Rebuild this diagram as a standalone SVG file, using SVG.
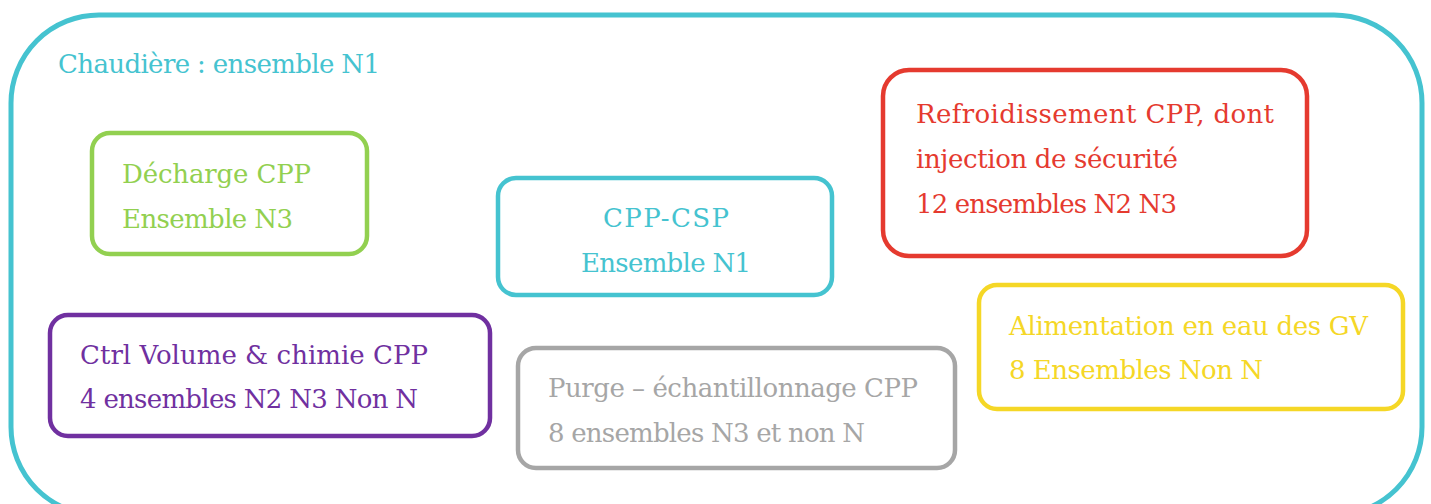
<svg xmlns="http://www.w3.org/2000/svg" width="1431" height="504" viewBox="0 0 1431 504">
<style>
text{font-family:"DejaVu Serif","Liberation Serif",serif;font-size:26px}
.box{fill:#fff;stroke-width:4.5}
</style>
<rect width="1431" height="504" fill="#fff"/>
<g id="chaudiere">
<rect x="11" y="15" width="1411" height="500" rx="88" fill="none" stroke="#45C3D0" stroke-width="5"/>
<text x="58" y="73" fill="#45C3D0" textLength="322">Chaudière : ensemble N1</text>
</g>
<g id="decharge">
<rect class="box" x="92" y="133" width="275" height="121" rx="18" stroke="#92D050"/>
<text x="122" y="183" fill="#92D050" textLength="189">Décharge CPP</text>
<text x="122" y="228" fill="#92D050" textLength="171">Ensemble N3</text>
</g>
<g id="cppcsp">
<rect class="box" x="498" y="178" width="334" height="117" rx="18" stroke="#45C3D0"/>
<text x="603" y="227" fill="#45C3D0" textLength="126">CPP-CSP</text>
<text x="581" y="272" fill="#45C3D0" textLength="170">Ensemble N1</text>
</g>
<g id="refroidissement">
<rect class="box" x="883" y="70" width="424" height="186" rx="26" stroke="#E53A2F"/>
<text x="916" y="123" fill="#E53A2F" textLength="358">Refroidissement CPP, dont</text>
<text x="916" y="168" fill="#E53A2F" textLength="262">injection de sécurité</text>
<text x="916" y="213" fill="#E53A2F" textLength="261">12 ensembles N2 N3</text>
</g>
<g id="ctrlvolume">
<rect class="box" x="50" y="315" width="440" height="121" rx="18" stroke="#7030A0"/>
<text x="80" y="364" fill="#7030A0" textLength="348">Ctrl Volume &amp; chimie CPP</text>
<text x="80" y="408" fill="#7030A0" textLength="338">4 ensembles N2 N3 Non N</text>
</g>
<g id="purge">
<rect class="box" x="518" y="348" width="437" height="120" rx="18" stroke="#A6A6A6"/>
<text x="548" y="397" fill="#A6A6A6" textLength="370">Purge – échantillonnage CPP</text>
<text x="548" y="442" fill="#A6A6A6" textLength="317">8 ensembles N3 et non N</text>
</g>
<g id="alimentation">
<rect class="box" x="979" y="285" width="424" height="124" rx="18" stroke="#F5D726"/>
<text x="1009" y="335" fill="#F5D726" textLength="359">Alimentation en eau des GV</text>
<text x="1009" y="379" fill="#F5D726" textLength="254">8 Ensembles Non N</text>
</g>
<g id="connectors"></g>
</svg>
